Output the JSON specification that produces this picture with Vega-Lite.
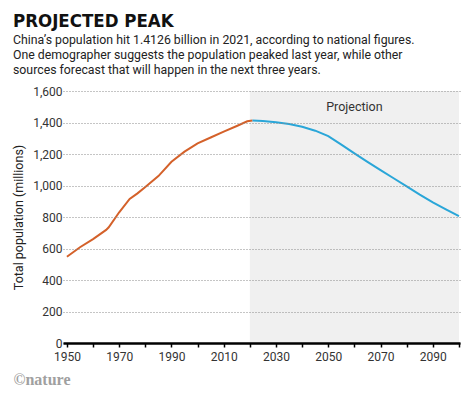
{
  "$schema": "https://vega.github.io/schema/vega-lite/v6.json",
  "width": 397,
  "height": 252,
  "autosize": {"type": "none"},
  "padding": {"left": 63, "top": 91, "right": 14, "bottom": 54},
  "background": "white",
  "title": {
    "text": "PROJECTED PEAK",
    "subtitle": [
      "China’s population hit 1.4126 billion in 2021, according to national figures.",
      "One demographer suggests the population peaked last year, while other",
      "sources forecast that will happen in the next three years."
    ],
    "anchor": "start",
    "frame": "group",
    "dx": -50,
    "font": "Liberation Sans Narrow, DejaVu Sans Condensed, sans-serif",
    "fontSize": 18.5,
    "fontWeight": "bold",
    "color": "#111111",
    "subtitleFont": "Roboto",
    "subtitleFontSize": 12.3,
    "subtitleColor": "#222222",
    "subtitleLineHeight": 15,
    "subtitlePadding": 3,
    "offset": 9
  },
  "config": {"view": {"stroke": null}},
  "datasets": {
    "shade": [{"year": 2020, "year2": 2100, "pop": 0, "pop2": 1600}],
    "series": [
      {"year": 1950, "pop": 548, "series": "Historical"},
      {"year": 1955, "pop": 608, "series": "Historical"},
      {"year": 1960, "pop": 660, "series": "Historical"},
      {"year": 1965, "pop": 718, "series": "Historical"},
      {"year": 1966, "pop": 735, "series": "Historical"},
      {"year": 1970, "pop": 830, "series": "Historical"},
      {"year": 1974, "pop": 915, "series": "Historical"},
      {"year": 1977, "pop": 950, "series": "Historical"},
      {"year": 1980, "pop": 990, "series": "Historical"},
      {"year": 1985, "pop": 1060, "series": "Historical"},
      {"year": 1990, "pop": 1151, "series": "Historical"},
      {"year": 1995, "pop": 1215, "series": "Historical"},
      {"year": 2000, "pop": 1268, "series": "Historical"},
      {"year": 2005, "pop": 1305, "series": "Historical"},
      {"year": 2010, "pop": 1342, "series": "Historical"},
      {"year": 2015, "pop": 1378, "series": "Historical"},
      {"year": 2019, "pop": 1408, "series": "Historical"},
      {"year": 2021, "pop": 1412, "series": "Historical"},
      {"year": 2021, "pop": 1412, "series": "Projection"},
      {"year": 2025, "pop": 1410, "series": "Projection"},
      {"year": 2030, "pop": 1402, "series": "Projection"},
      {"year": 2035, "pop": 1390, "series": "Projection"},
      {"year": 2040, "pop": 1373, "series": "Projection"},
      {"year": 2045, "pop": 1348, "series": "Projection"},
      {"year": 2050, "pop": 1313, "series": "Projection"},
      {"year": 2055, "pop": 1260, "series": "Projection"},
      {"year": 2060, "pop": 1204, "series": "Projection"},
      {"year": 2065, "pop": 1150, "series": "Projection"},
      {"year": 2070, "pop": 1098, "series": "Projection"},
      {"year": 2075, "pop": 1046, "series": "Projection"},
      {"year": 2080, "pop": 994, "series": "Projection"},
      {"year": 2085, "pop": 942, "series": "Projection"},
      {"year": 2090, "pop": 893, "series": "Projection"},
      {"year": 2095, "pop": 849, "series": "Projection"},
      {"year": 2100, "pop": 806, "series": "Projection"}
    ],
    "labels": [{"year": 2060, "pop": 1500, "label": "Projection"}]
  },
  "encoding": {
    "x": {
      "field": "year",
      "type": "quantitative",
      "scale": {"domain": [1948.5, 2100.4], "nice": false, "zero": false},
      "axis": {
        "title": "©nature",
        "values": [1950, 1960, 1970, 1980, 1990, 2000, 2010, 2020, 2030, 2040, 2050, 2060, 2070, 2080, 2090, 2100],
        "format": "d",
        "labelExpr": "datum.value % 20 == 10 ? datum.label : ''",
        "labelOverlap": false,
        "labelFlush": false,
        "labelFont": "Roboto",
        "labelFontSize": 12,
        "labelColor": "#333333",
        "labelPadding": 4,
        "domainColor": "#000000",
        "domainWidth": 2.5,
        "tickColor": "#000000",
        "tickWidth": 1.5,
        "tickSize": 4,
        "grid": false,
        "titleFont": "Liberation Serif",
        "titleFontSize": 16,
        "titleFontWeight": "bold",
        "titleColor": "#a0a0a0",
        "titleAnchor": "start",
        "titleAlign": "left",
        "titleX": -50,
        "titleY": 41,
        "titleBaseline": "alphabetic",
        "zindex": 1
      }
    },
    "y": {
      "field": "pop",
      "type": "quantitative",
      "scale": {"domain": [0, 1600], "nice": false},
      "axis": {
        "title": "Total population (millions)",
        "values": [0, 200, 400, 600, 800, 1000, 1200, 1400, 1600],
        "format": ",d",
        "labelOverlap": false,
        "domain": false,
        "ticks": false,
        "grid": true,
        "gridDash": [1, 2],
        "gridColor": "#8a8a8a",
        "gridWidth": 1,
        "labelFont": "Roboto",
        "labelFontSize": 12,
        "labelColor": "#333333",
        "labelPadding": 1,
        "titleFont": "Roboto",
        "titleFontSize": 12.5,
        "titleFontWeight": "normal",
        "titleColor": "#222222",
        "titleX": -38,
        "titleBaseline": "bottom",
        "zindex": 1
      }
    }
  },
  "layer": [
    {
      "data": {"name": "shade"},
      "mark": {"type": "rect", "color": "#f0f0f0"},
      "encoding": {
        "x2": {"field": "year2"},
        "y2": {"field": "pop2"}
      }
    },
    {
      "data": {"name": "series"},
      "mark": {"type": "line", "strokeWidth": 2},
      "encoding": {
        "color": {
          "field": "series",
          "type": "nominal",
          "scale": {"domain": ["Historical", "Projection"], "range": ["#d4612a", "#2aa6d8"]},
          "legend": null
        }
      }
    },
    {
      "data": {"name": "labels"},
      "mark": {"type": "text", "font": "Roboto", "fontSize": 12.5, "color": "#333333"},
      "encoding": {
        "text": {"field": "label"}
      }
    }
  ]
}
